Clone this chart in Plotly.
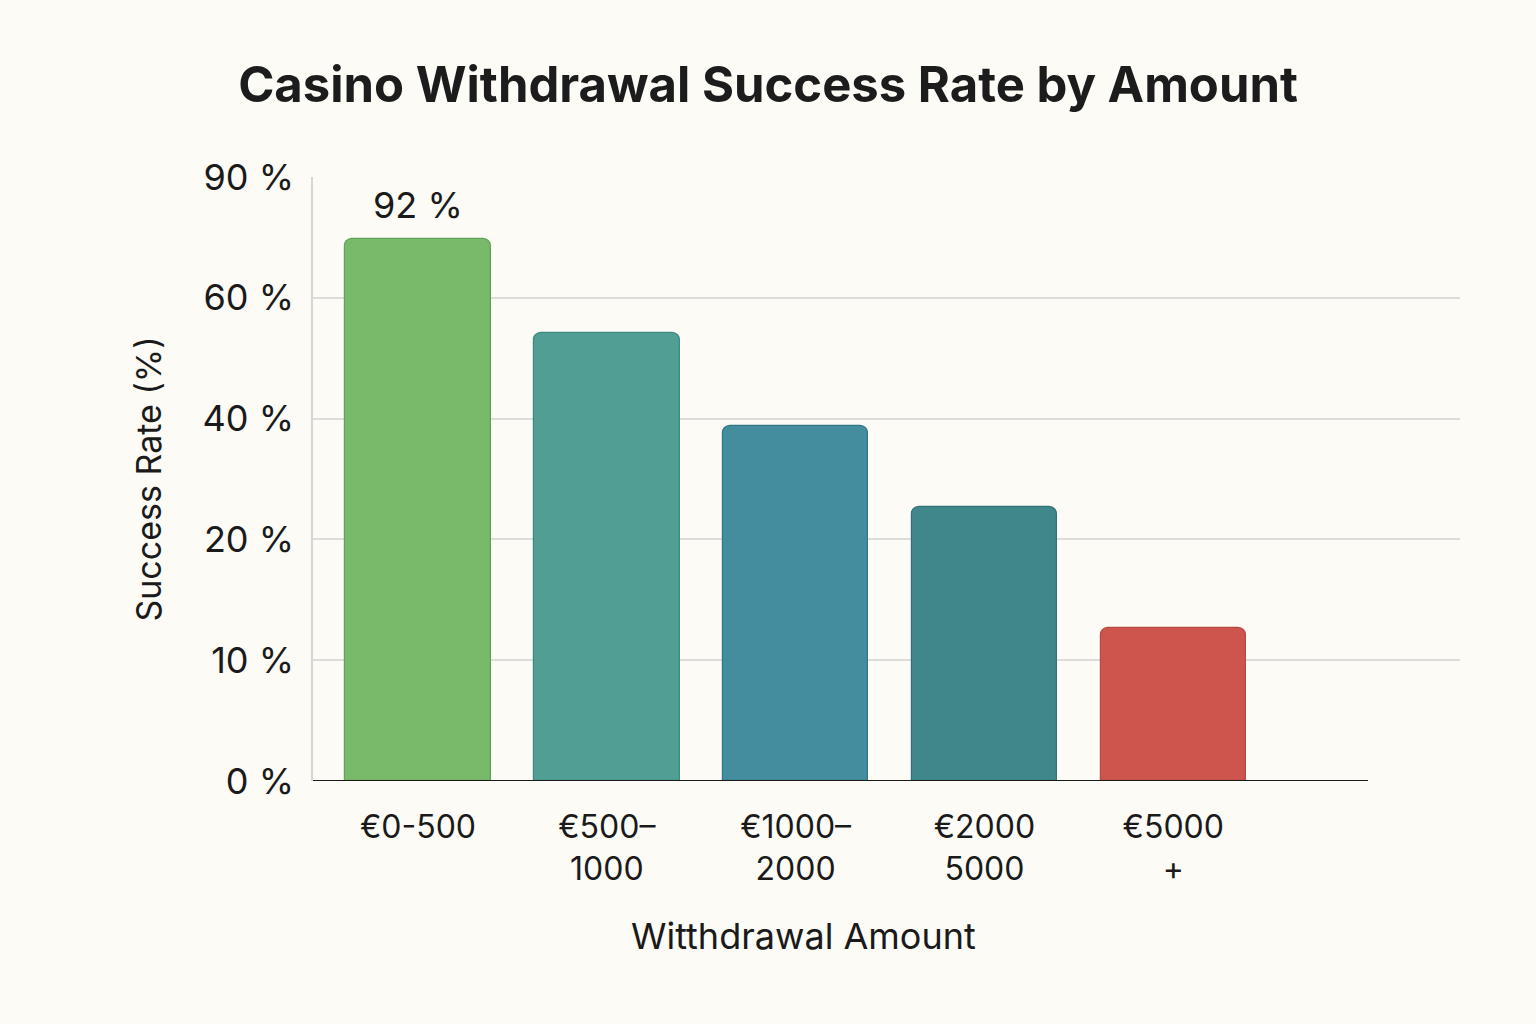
import numpy as np
import plotly.graph_objects as go

categories = ["€0-500", "€500–<br>1000", "€1000–<br>2000", "€2000<br>5000", "€5000<br>+"]
success_rate = [74.6, 54.2, 38.7, 25.3, 12.7]
bar_colors = ["#78b96a", "#519e94", "#448d9e", "#40878c", "#cd554d"]
line_colors = ["#5fa45a", "#3f8a80", "#2f7688", "#2f7378", "#b84840"]
tick_values = [0, 10, 20, 40, 60, 90]
tick_labels = ["0 %", "10 %", "20 %", "40 %", "60 %", "90 %"]
top_label = "92 %"

# non-linear (evenly spaced ticks) axis scale
tick_pos = list(range(len(tick_values)))
heights = np.interp(success_rate, tick_values, tick_pos)

W, H = 1536, 1024
L, R, T, B = 313, 1460, 177, 781
BG = "#fcfbf6"

fig = go.Figure()
fig.add_trace(go.Bar(
    x=list(range(len(categories))),
    y=heights,
    marker=dict(color=bar_colors, line=dict(color=line_colors, width=1.2), cornerradius=8),
    width=0.77,
    hoverinfo="skip",
))

fig.add_annotation(x=0, y=heights[0], text=top_label, showarrow=False,
                   yshift=34, font=dict(family="Inter", size=36, color="#1a1a1a"))

# x axis title
fig.add_annotation(xref="paper", yref="paper", x=(803 - L) / (R - L), y=-(936 - B) / (B - T),
                   text="Witthdrawal Amount", showarrow=False, xanchor="center", yanchor="middle",
                   font=dict(family="Inter", size=36, color="#1a1a1a"))

# zero line
fig.add_shape(type="line", xref="paper", yref="y", x0=0, x1=(1368 - L) / (R - L), y0=0, y1=0,
              line=dict(color="#1a1a1a", width=2))

fig.update_layout(
    width=W, height=H,
    paper_bgcolor=BG, plot_bgcolor=BG,
    margin=dict(l=L, r=W - R, t=T, b=H - B, pad=0),
    showlegend=False,
    bargap=0,
    title=dict(text="<b>Casino Withdrawal Success Rate by Amount</b>", x=768 / W, xanchor="center",
               xref="container", y=1 - 85 / H, yanchor="middle",
               font=dict(family="Inter", size=49, color="#1c1c1c")),
    font=dict(family="Inter", color="#1a1a1a"),
)
fig.update_xaxes(
    range=[-0.556, 4 + (R - 1173) / 189],
    tickvals=list(range(len(categories))), ticktext=categories,
    tickfont=dict(family="Inter", size=32, color="#1a1a1a"),
    ticks="", showgrid=False, zeroline=False, showline=False,
    ticklabelstandoff=24,
)
fig.update_yaxes(
    range=[0, len(tick_values) - 1],
    tickvals=tick_pos, ticktext=tick_labels,
    tickfont=dict(family="Inter", size=36, color="#1a1a1a"),
    ticks="", showgrid=True, gridcolor="#dcdcd8", gridwidth=1.5,
    zeroline=False, showline=True, linecolor="#d6d6d2", linewidth=1.5,
    title=dict(text="Success Rate (%)", font=dict(family="Inter", size=34, color="#1a1a1a"), standoff=31),
    ticklabelstandoff=10,
)

fig.write_html("out.html", config={"displayModeBar": False},
               post_script="document.body.style.margin='0';document.body.style.background='%s';" % BG)
